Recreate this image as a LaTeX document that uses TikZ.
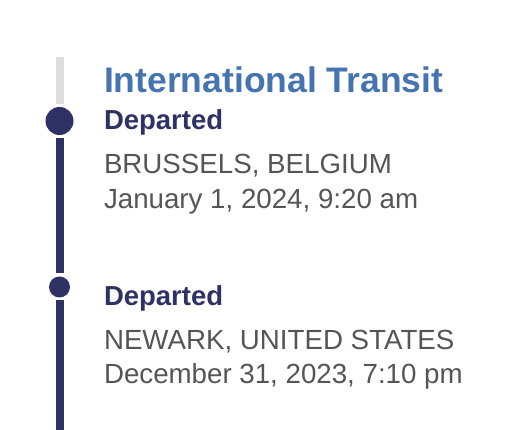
\documentclass[tikz,border=0pt]{standalone}
\usepackage{fontspec}
\setmainfont{Liberation Sans}
\definecolor{navy}{HTML}{2E3163}
\definecolor{titleblue}{HTML}{4674B0}
\definecolor{textgrey}{HTML}{555555}
\definecolor{railgrey}{HTML}{DDDDDD}
\begin{document}
\begin{tikzpicture}[x=1pt,y=-1pt,
  dot/.style={circle, fill=navy, inner sep=0pt, outer sep=3pt},
  rail/.style={line width=8pt, draw=navy},
  futurerail/.style={line width=8pt, draw=railgrey},
  lbl/.style={anchor=base west, inner sep=0pt, outer sep=0pt},
  title/.style={lbl, text=titleblue, font=\fontsize{35.5}{40}\selectfont\bfseries},
  status/.style={lbl, text=navy, font=\fontsize{27.5}{32}\selectfont\bfseries},
  info/.style={lbl, text=textgrey, font=\fontsize{27.7}{32}\selectfont}]
\useasboundingbox (0,0) rectangle (520,430);
\coordinate (top) at (59.5,57);
\coordinate (bottom) at (59.5,430);
\node[dot, minimum size=28pt] (d1) at (59.5,121) {};
\node[dot, minimum size=21pt] (d2) at (59.5,287) {};
\draw[futurerail] (top) -- (d1);
\draw[rail] (d1) -- (d2);
\draw[rail] (d2) -- (bottom);
\node[title] (t) at (104,93) {International Transit};
\node[status] (s1) at (104,129.5) {Departed};
\node[info] (p1) at (104,173.5) {BRUSSELS, BELGIUM};
\node[info] (w1) at (104,208.5) {January 1, 2024, 9:20 am};
\node[status] (s2) at (104,305.5) {Departed};
\node[info] (p2) at (104,349.5) {NEWARK, UNITED STATES};
\node[info] (w2) at (104,384) {December 31, 2023, 7:10 pm};
\end{tikzpicture}
\end{document}
